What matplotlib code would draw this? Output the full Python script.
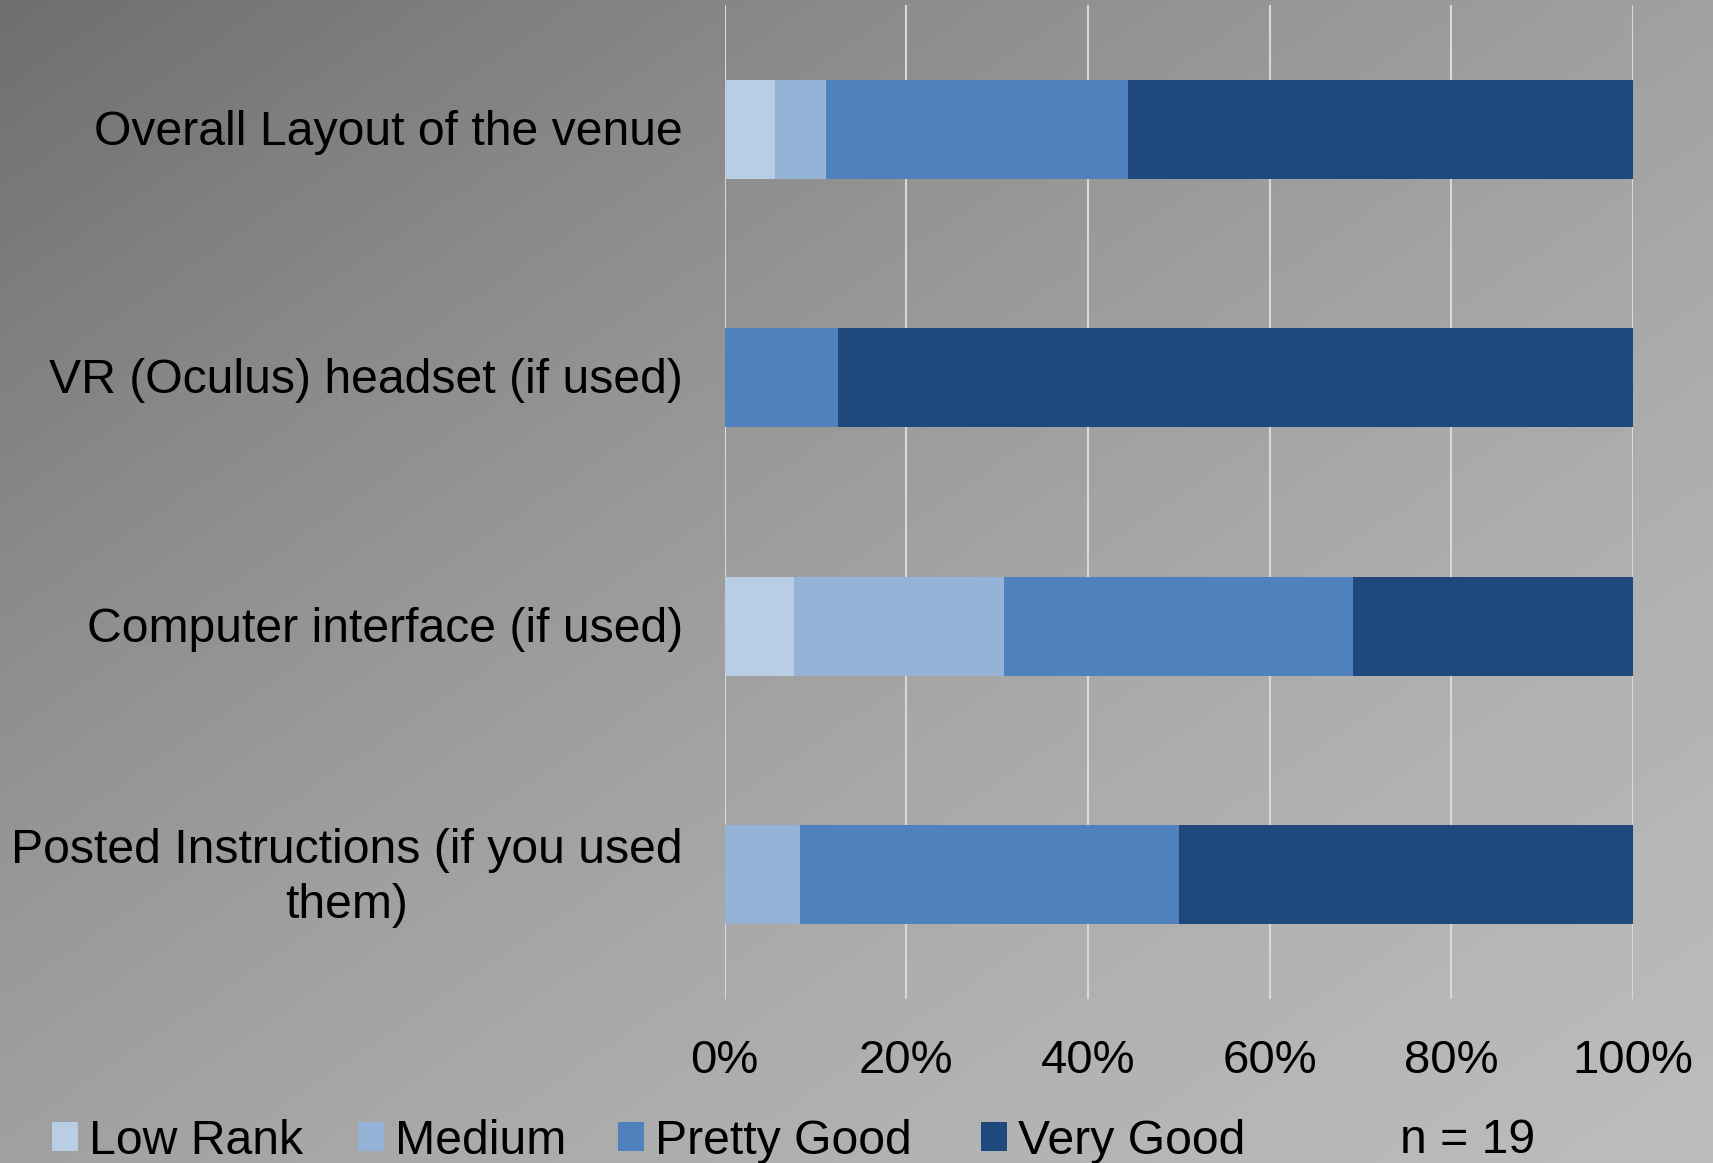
import numpy as np
import matplotlib
matplotlib.use('Agg')
import matplotlib.pyplot as plt
import matplotlib.transforms as mtransforms

plt.rcParams['font.family'] = ['Liberation Sans', 'DejaVu Sans']

# survey answers as shares of each item's respondents
questions = ['Overall Layout of the venue',
             'VR (Oculus) headset (if used)',
             'Computer interface (if used)',
             'Posted Instructions (if you used\nthem)']
ratings = ['Low Rank', 'Medium', 'Pretty Good', 'Very Good']
low_rank = [1/18, 0, 1/13, 0]
medium = [1/18, 0, 3/13, 1/12]
pretty_good = [6/18, 1/8, 5/13, 5/12]
very_good = [10/18, 7/8, 4/13, 6/12]
n_label = 'n = 19'
ticks = [0, 0.2, 0.4, 0.6, 0.8, 1.0]
tick_names = ['0%', '20%', '40%', '60%', '80%', '100%']

colors = ['#b9cde5', '#95b3d7', '#4f81bd', '#1f497d']

W, H = 1713, 1163
fig = plt.figure(figsize=(W/100., H/100.), dpi=100)

# diagonal grey gradient behind everything
bg = fig.add_axes([0, 0, 1, 1], zorder=-10)
gx, gy = np.meshgrid(np.linspace(0, 1, 400), np.linspace(0, 1, 300))
u = gx + gy
shade = (110 + 61*u - 11*u**2) / 255.
bg.imshow(shade, cmap='gray', vmin=0, vmax=1, aspect='auto', extent=[0, 1, 1, 0])
bg.set_axis_off()

x0, x1 = 724.6, 1633.
ax = fig.add_axes([x0/W, 1-999/H, (x1-x0)/W, (999-5)/H])
ax.patch.set_alpha(0)

ypos = np.arange(len(questions))
series = [low_rank, medium, pretty_good, very_good]
left = np.zeros(len(questions))
bars = []
for vals, c, name in zip(series, colors, ratings):
    b = ax.barh(ypos, vals, 0.4, left=left, color=c, label=name, zorder=3)
    bars.append(b)
    left = left + np.array(vals)

ax.set_xlim(0, 1)
ax.set_ylim(3.5, -0.5)
ax.set_xticks(ticks)
ax.set_xticklabels(tick_names)
ax.set_yticks(ypos)
ax.set_yticklabels(questions, ha='center', multialignment='center', linespacing=1.3)
ax.xaxis.grid(True, color='#d9d9d9', linewidth=1.5, zorder=0)
ax.set_axisbelow(True)
for s in ax.spines.values():
    s.set_visible(False)
ax.tick_params(axis='x', length=0, labelsize=34, pad=29)
ax.tick_params(axis='y', length=0, labelsize=34.7, pad=0)

# center the category labels on their own column, nudge them up a bit
fig.canvas.draw()
r = fig.canvas.get_renderer()
lab_right = 683.
for lab in ax.get_yticklabels():
    bb = lab.get_window_extent(r)
    lab.set_x(-(x0 - lab_right + bb.width/2.) / (x1-x0))
    up = 7 if '\n' in lab.get_text() else 2
    lab.set_transform(lab.get_transform() +
                      mtransforms.ScaledTranslation(0, up/100., fig.dpi_scale_trans))

# legend entries sit at fixed spots, like the original
legend_x = [52, 358, 618, 981]
for b, name, lx in zip(bars, ratings, legend_x):
    fig.legend(handles=[b], labels=[name], loc='center left',
               bbox_to_anchor=(lx/W, 1-1141/H), frameon=False,
               fontsize=34.7, handlelength=0.53, handleheight=0.53,
               handletextpad=0.23, borderpad=0, borderaxespad=0)
fig.text(1400/W, 1-1153/H, n_label, fontsize=34.7, va='baseline')

plt.savefig('out.png', dpi=100)
